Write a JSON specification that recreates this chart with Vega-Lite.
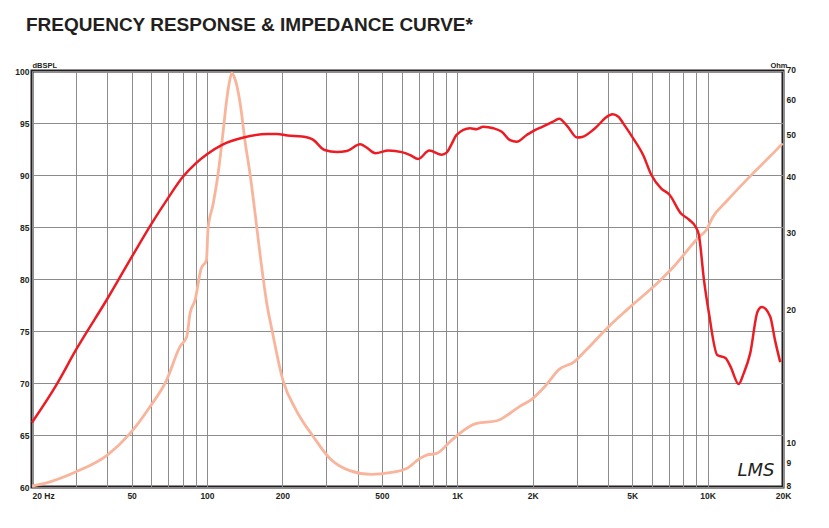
{
  "$schema": "https://vega.github.io/schema/vega-lite/v6.json",
  "autosize": "none",
  "width": 751,
  "height": 416,
  "padding": {"left": 32, "top": 71, "right": 46, "bottom": 41},
  "background": "#ffffff",
  "title": {
    "text": "FREQUENCY RESPONSE & IMPEDANCE CURVE*",
    "anchor": "start",
    "frame": "group",
    "font": "Liberation Sans",
    "fontSize": 19,
    "fontWeight": "bold",
    "color": "#231f20",
    "dx": -6,
    "offset": 26
  },
  "datasets": {
    "spl": [
      {"f": 20, "v": 66.2}, {"f": 25, "v": 69.8}, {"f": 30, "v": 73.2}, {"f": 40, "v": 78.1},
      {"f": 50, "v": 82.1}, {"f": 60, "v": 85.3}, {"f": 70, "v": 87.8}, {"f": 80, "v": 89.8},
      {"f": 90, "v": 91.1}, {"f": 100, "v": 92.0}, {"f": 115, "v": 92.9}, {"f": 140, "v": 93.6},
      {"f": 175, "v": 93.95}, {"f": 190, "v": 93.95}, {"f": 210, "v": 93.8}, {"f": 240, "v": 93.7},
      {"f": 265, "v": 93.4}, {"f": 295, "v": 92.4}, {"f": 330, "v": 92.2}, {"f": 362, "v": 92.3},
      {"f": 409, "v": 92.95}, {"f": 436, "v": 92.6}, {"f": 471, "v": 92.1}, {"f": 531, "v": 92.35},
      {"f": 600, "v": 92.2}, {"f": 650, "v": 91.9}, {"f": 698, "v": 91.55}, {"f": 773, "v": 92.35},
      {"f": 866, "v": 91.95}, {"f": 906, "v": 92.15}, {"f": 950, "v": 93.0}, {"f": 993, "v": 93.85},
      {"f": 1124, "v": 94.5}, {"f": 1195, "v": 94.4}, {"f": 1270, "v": 94.65}, {"f": 1394, "v": 94.5},
      {"f": 1505, "v": 94.15}, {"f": 1625, "v": 93.35}, {"f": 1727, "v": 93.2}, {"f": 1893, "v": 93.85},
      {"f": 2000, "v": 94.2}, {"f": 2193, "v": 94.65}, {"f": 2400, "v": 95.1}, {"f": 2550, "v": 95.4},
      {"f": 2750, "v": 94.7}, {"f": 3010, "v": 93.6}, {"f": 3150, "v": 93.65}, {"f": 3550, "v": 94.5},
      {"f": 4020, "v": 95.7}, {"f": 4180, "v": 95.85}, {"f": 4400, "v": 95.6}, {"f": 4680, "v": 94.7},
      {"f": 5050, "v": 93.5}, {"f": 5530, "v": 91.9}, {"f": 5960, "v": 90.0}, {"f": 6530, "v": 88.7},
      {"f": 7040, "v": 88.1}, {"f": 7820, "v": 86.3}, {"f": 8430, "v": 85.7}, {"f": 8960, "v": 85.0},
      {"f": 9230, "v": 84.2}, {"f": 9670, "v": 79.9}, {"f": 10120, "v": 76.7}, {"f": 10920, "v": 72.7},
      {"f": 11780, "v": 72.4}, {"f": 12330, "v": 71.6}, {"f": 13300, "v": 69.9}, {"f": 13920, "v": 70.9},
      {"f": 14790, "v": 72.85}, {"f": 15820, "v": 76.85}, {"f": 16460, "v": 77.3}, {"f": 17770, "v": 76.4},
      {"f": 18590, "v": 74.1}, {"f": 19500, "v": 72.0}
    ],
    "imp": [
      {"f": 20, "z": 8.04}, {"f": 23.6, "z": 8.22}, {"f": 30, "z": 8.66}, {"f": 40, "z": 9.45},
      {"f": 49.3, "z": 10.58}, {"f": 59.2, "z": 12.16}, {"f": 69, "z": 13.97}, {"f": 78, "z": 16.63},
      {"f": 83, "z": 17.5}, {"f": 85.6, "z": 19.8}, {"f": 89.6, "z": 21.2}, {"f": 94.8, "z": 25.0},
      {"f": 99.5, "z": 26.1}, {"f": 101, "z": 30.8}, {"f": 105.6, "z": 34.8}, {"f": 110.6, "z": 40.7},
      {"f": 116, "z": 51.0}, {"f": 119.6, "z": 59.6}, {"f": 122.6, "z": 65.6}, {"f": 125.7, "z": 69.2},
      {"f": 129.2, "z": 67.3}, {"f": 135.4, "z": 59.6}, {"f": 142, "z": 48.4}, {"f": 148.8, "z": 40.7},
      {"f": 156, "z": 33.0}, {"f": 163.5, "z": 26.5}, {"f": 173.8, "z": 20.66}, {"f": 182, "z": 18.1},
      {"f": 201, "z": 13.97}, {"f": 227, "z": 11.95}, {"f": 266, "z": 10.4}, {"f": 309, "z": 9.29},
      {"f": 372, "z": 8.71}, {"f": 454, "z": 8.54}, {"f": 539, "z": 8.62}, {"f": 627, "z": 8.81},
      {"f": 710, "z": 9.29}, {"f": 754, "z": 9.45}, {"f": 827, "z": 9.53}, {"f": 935, "z": 10.13},
      {"f": 1010, "z": 10.53}, {"f": 1195, "z": 11.15}, {"f": 1440, "z": 11.3}, {"f": 1625, "z": 11.75},
      {"f": 1782, "z": 12.2}, {"f": 1970, "z": 12.6}, {"f": 2260, "z": 13.6}, {"f": 2550, "z": 14.77},
      {"f": 2930, "z": 15.37}, {"f": 3270, "z": 16.34}, {"f": 4020, "z": 18.45}, {"f": 4830, "z": 20.3},
      {"f": 6380, "z": 23.33}, {"f": 7220, "z": 25.02}, {"f": 9260, "z": 29.5}, {"f": 9860, "z": 30.5},
      {"f": 10490, "z": 32.7}, {"f": 11850, "z": 35.4}, {"f": 15170, "z": 41.05}, {"f": 17720, "z": 44.8},
      {"f": 19930, "z": 48.0}
    ],
    "logo": [{"f": 15600, "v": 61.5, "label": "LMS"}]
  },
  "encoding": {
    "x": {
      "field": "f",
      "type": "quantitative",
      "scale": {"type": "log", "domain": [20, 20000], "nice": false},
      "axis": {
        "title": null,
        "values": [20, 30, 40, 50, 60, 70, 80, 90, 100, 200, 300, 400, 500, 600, 700, 800, 900, 1000, 2000, 3000, 4000, 5000, 6000, 7000, 8000, 9000, 10000, 20000],
        "labelExpr": "datum.value == 20 ? '20  Hz' : indexof([1000, 2000, 5000, 10000, 20000], datum.value) >= 0 ? (datum.value / 1000) + 'K' : indexof([50, 100, 200, 500], datum.value) >= 0 ? '' + datum.value : ''",
        "labelAlign": {"condition": {"test": "datum.value == 20", "value": "left"}, "value": "center"},
        "labelOverlap": false,
        "labelFlush": false,
        "labelPadding": 4
      }
    }
  },
  "layer": [
    {
      "data": {"name": "imp"},
      "mark": {"type": "line", "color": "#f9b59c", "strokeWidth": 2.8, "interpolate": "monotone"},
      "encoding": {
        "y": {
          "field": "z",
          "type": "quantitative",
          "scale": {"type": "log", "domain": [8, 70], "nice": false},
          "axis": {
            "orient": "right",
            "values": [8, 9, 10, 20, 30, 40, 50, 60, 70],
            "grid": false,
            "title": "Ohm",
            "titleAngle": 0,
            "titleX": 4,
            "titleY": -4,
            "titleAlign": "right",
            "titleBaseline": "alphabetic",
            "labelAlign": "left",
            "labelPadding": 3,
            "labelOffset": -1.5
          }
        }
      }
    },
    {
      "data": {"name": "spl"},
      "mark": {"type": "line", "color": "#ec1c24", "strokeWidth": 2.5, "interpolate": "monotone"},
      "encoding": {
        "y": {
          "field": "v",
          "type": "quantitative",
          "scale": {"domain": [60, 100], "nice": false},
          "axis": {
            "values": [60, 65, 70, 75, 80, 85, 90, 95, 100],
            "grid": true,
            "title": "dBSPL",
            "titleAngle": 0,
            "titleX": 0,
            "titleY": -4,
            "titleAlign": "left",
            "titleBaseline": "alphabetic",
            "labelPadding": 3
          }
        }
      }
    },
    {
      "data": {"name": "logo"},
      "mark": {"type": "text", "font": "DejaVu Sans", "fontStyle": "italic", "fontWeight": 300, "fontSize": 18, "color": "#231f20"},
      "encoding": {
        "y": {"field": "v", "type": "quantitative", "scale": {"domain": [60, 100], "nice": false}, "axis": null},
        "text": {"field": "label"}
      }
    }
  ],
  "resolve": {"scale": {"y": "independent"}},
  "config": {
    "view": {"stroke": "#231f20", "strokeWidth": 3},
    "axis": {
      "domain": false,
      "ticks": false,
      "grid": true,
      "gridColor": "#8c8c8c",
      "gridWidth": 1,
      "gridOpacity": 1,
      "labelFont": "Liberation Sans",
      "labelFontWeight": "bold",
      "labelFontSize": 8.5,
      "labelColor": "#231f20",
      "titleFont": "Liberation Sans",
      "titleFontWeight": "bold",
      "titleFontSize": 7.5,
      "titleColor": "#231f20"
    }
  }
}
